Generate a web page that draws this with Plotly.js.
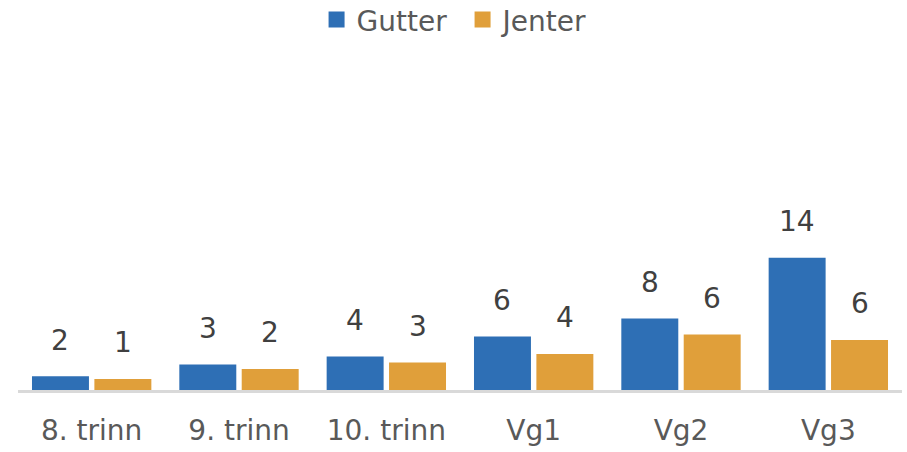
<!DOCTYPE html>
<html>
<head>
<meta charset="utf-8">
<script src="https://cdn.plot.ly/plotly-3.0.1.min.js"></script>
<style>html,body{margin:0;padding:0;background:#fff}#chart{width:907px;height:452px}</style>
</head>
<body>
<div id="chart"></div>
<script>
const categories = ["8. trinn", "9. trinn", "10. trinn", "Vg1", "Vg2", "Vg3"];
const gutterValues = [1.45, 2.69, 3.54, 5.66, 7.57, 14.0];
const jenterValues = [1.17, 2.23, 2.91, 3.82, 5.87, 5.30];
const gutterLabels = ["2", "3", "4", "6", "8", "14"];
const jenterLabels = ["1", "2", "3", "4", "6", "6"];

const BLUE = "#2E6FB5";
const ORANGE = "#E09F3A";
const FONT = "DejaVu Sans";
const BARGAP = 0.153;

const traces = [
  {type: "bar", name: "Gutter", x: categories, y: gutterValues, marker: {color: BLUE}, showlegend: false, hoverinfo: "skip"},
  {type: "bar", name: "Jenter", x: categories, y: jenterValues, marker: {color: ORANGE}, showlegend: false, hoverinfo: "skip"},
  {type: "scatter", mode: "markers", name: "Gutter", x: [null], y: [null], marker: {symbol: "square", size: 18, color: BLUE}},
  {type: "scatter", mode: "markers", name: "Jenter", x: [null], y: [null], marker: {symbol: "square", size: 18, color: ORANGE}}
];

const off = (1 - BARGAP) / 4;
const annotations = [];
categories.forEach((c, i) => {
  annotations.push({x: i - off, y: gutterValues[i], xref: "x", yref: "y", text: gutterLabels[i], showarrow: false, yshift: 36, yanchor: "middle", font: {family: FONT, size: 28, color: "#404040"}});
  annotations.push({x: i + off, y: jenterValues[i], xref: "x", yref: "y", text: jenterLabels[i], showarrow: false, yshift: 36, yanchor: "middle", font: {family: FONT, size: 28, color: "#404040"}});
});

const layout = {
  width: 907, height: 452,
  margin: {l: 18, r: 5, t: 70, b: 62},
  paper_bgcolor: "#ffffff", plot_bgcolor: "#ffffff",
  barmode: "group", bargap: BARGAP, bargroupgap: 0.087,
  font: {family: FONT, size: 28, color: "#595959"},
  xaxis: {type: "category", showline: true, linecolor: "#D9D9D9", linewidth: 3, showgrid: false, zeroline: false,
          ticks: "", ticklabelstandoff: 13, tickfont: {family: FONT, size: 28, color: "#595959"}, fixedrange: true},
  yaxis: {range: [0, 33.9], visible: false, showgrid: false, zeroline: false, fixedrange: true},
  legend: {orientation: "h", x: 0.510, xanchor: "center", xref: "container", y: 0.956, yanchor: "middle", yref: "container",
           font: {family: FONT, size: 28, color: "#595959"}, itemwidth: 30, traceorder: "normal",
           entrywidth: 101, entrywidthmode: "pixels"},
  annotations: annotations,
  showlegend: true
};

Plotly.newPlot("chart", traces, layout, {displayModeBar: false, staticPlot: true});
</script>
</body>
</html>
